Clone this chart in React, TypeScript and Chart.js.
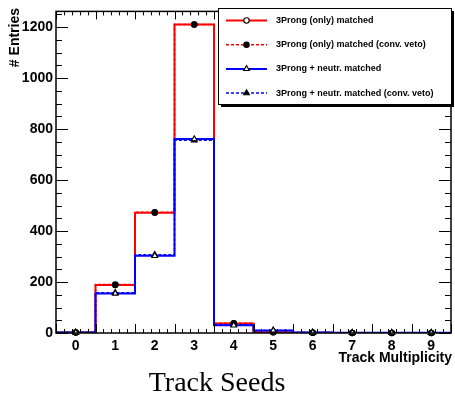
import React, { useEffect, useRef } from 'react';
import { Chart, registerables } from 'chart.js';

Chart.register(...registerables);

// ---- data ----
const binCenters = [0, 1, 2, 3, 4, 5, 6, 7, 8, 9];
const xTickValues = [0, 1, 2, 3, 4, 5, 6, 7, 8, 9];
const yTickValues = [0, 200, 400, 600, 800, 1000, 1200];
const prongOnly = [2, 188, 472, 1211, 37, 3, 1, 0, 0, 0];
const prongOnlyVeto = [2, 190, 474, 1211, 38, 3, 1, 0, 0, 0];
const prongNeutr = [2, 155, 303, 761, 30, 10, 2, 1, 1, 1];
const prongNeutrVeto = [2, 158, 307, 756, 32, 10, 2, 1, 1, 1];
const seriesNames = [
  '3Prong (only) matched',
  '3Prong (only) matched (conv. veto)',
  '3Prong + neutr. matched',
  '3Prong + neutr. matched (conv. veto)',
];
const xTitle = 'Track Multiplicity';
const yTitle = '# Entries';
const caption = 'Track Seeds';

const RED = '#ff0000';
const BLUE = '#0000ff';
const SANS = '"Liberation Sans", Arial, sans-serif';

type Style = { color: string; dash: number[]; width: number; marker: 'circle' | 'triangle'; filled: boolean };
const styles: Style[] = [
  { color: RED, dash: [], width: 2, marker: 'circle', filled: false },
  { color: RED, dash: [3, 2], width: 1.5, marker: 'circle', filled: true },
  { color: BLUE, dash: [], width: 2, marker: 'triangle', filled: false },
  { color: BLUE, dash: [3, 2], width: 1.5, marker: 'triangle', filled: true },
];
const seriesValues = [prongOnly, prongOnlyVeto, prongNeutr, prongNeutrVeto];
// order in which marker sets are painted (last on top)
const markerOrder = [0, 1, 3, 2];

const edges = (vals: number[]) => {
  const pts = vals.map((v, i) => ({ x: binCenters[i] - 0.5, y: v }));
  pts.push({ x: binCenters[binCenters.length - 1] + 0.5, y: vals[vals.length - 1] });
  return pts;
};
const centers = (vals: number[]) => vals.map((v, i) => ({ x: binCenters[i], y: v }));

function drawMarker(ctx: CanvasRenderingContext2D, kind: string, filled: boolean, x: number, y: number) {
  ctx.save();
  ctx.setLineDash([]);
  ctx.lineWidth = 1.1;
  ctx.strokeStyle = '#000';
  ctx.fillStyle = filled ? '#000' : '#fff';
  ctx.beginPath();
  if (kind === 'circle') {
    ctx.arc(x, y, 2.7, 0, Math.PI * 2);
  } else {
    const r = 3.3;
    ctx.moveTo(x, y - r);
    ctx.lineTo(x + r * 0.87, y + r * 0.5);
    ctx.lineTo(x - r * 0.87, y + r * 0.5);
    ctx.closePath();
  }
  ctx.fill();
  ctx.stroke();
  ctx.restore();
}

const framePlugin = {
  id: 'rootFrame',
  afterDatasetsDraw(chart: any) {
    const { ctx, chartArea: a, scales } = chart;
    const xs = scales.x;
    const ys = scales.y;
    // markers
    markerOrder.forEach((s) => {
      const st = styles[s];
      centers(seriesValues[s]).forEach((p) => {
        drawMarker(ctx, st.marker, st.filled, xs.getPixelForValue(p.x), ys.getPixelForValue(p.y));
      });
    });
    ctx.save();
    ctx.strokeStyle = '#000';
    ctx.setLineDash([]);
    ctx.lineWidth = 1.5;
    ctx.strokeRect(a.left, a.top, a.right - a.left, a.bottom - a.top);
    ctx.lineWidth = 1;
    // y ticks
    for (let v = 0; v <= ys.max; v += 50) {
      const y = Math.round(ys.getPixelForValue(v)) + 0.5;
      const len = v % 200 === 0 ? 12 : 6;
      ctx.beginPath();
      ctx.moveTo(a.left, y);
      ctx.lineTo(a.left + len, y);
      ctx.moveTo(a.right, y);
      ctx.lineTo(a.right - len, y);
      ctx.stroke();
    }
    // x ticks
    for (let k = 0; k <= 50; k++) {
      const v = xs.min + k * 0.2;
      const x = Math.round(xs.getPixelForValue(v)) + 0.5;
      const major = k % 5 === 0;
      const lb = major ? 9 : 4;
      const lt = major ? 8 : 4;
      ctx.beginPath();
      ctx.moveTo(x, a.bottom);
      ctx.lineTo(x, a.bottom - lb);
      ctx.moveTo(x, a.top);
      ctx.lineTo(x, a.top + lt);
      ctx.stroke();
    }
    ctx.restore();
  },
  afterDraw(chart: any) {
    const { ctx } = chart;
    ctx.save();
    // axis titles
    ctx.fillStyle = '#000';
    ctx.font = `bold 14px ${SANS}`;
    ctx.textAlign = 'right';
    ctx.textBaseline = 'alphabetic';
    ctx.fillText(xTitle, 452, 362);
    ctx.save();
    ctx.translate(19, 8);
    ctx.rotate(-Math.PI / 2);
    ctx.textAlign = 'right';
    ctx.fillText(yTitle, 0, 0);
    ctx.restore();
    // caption
    ctx.font = '28px "Liberation Serif", "Times New Roman", serif';
    ctx.textAlign = 'center';
    ctx.fillText(caption, 217, 391);
    // legend box with shadow
    const bx = 218, by = 8, bw = 233, bh = 96;
    ctx.fillStyle = '#000';
    ctx.fillRect(bx + 3, by + 3, bw, bh);
    ctx.fillStyle = '#fff';
    ctx.fillRect(bx, by, bw, bh);
    ctx.strokeStyle = '#000';
    ctx.lineWidth = 1;
    ctx.strokeRect(bx + 0.5, by + 0.5, bw, bh);
    ctx.font = `bold 9px ${SANS}`;
    ctx.textAlign = 'left';
    ctx.textBaseline = 'middle';
    seriesNames.forEach((name, i) => {
      const y = 20.5 + i * 24.2;
      const st = styles[i];
      ctx.save();
      ctx.strokeStyle = st.color;
      ctx.lineWidth = st.width;
      ctx.setLineDash(st.dash);
      ctx.beginPath();
      ctx.moveTo(226, y);
      ctx.lineTo(267, y);
      ctx.stroke();
      ctx.restore();
      drawMarker(ctx, st.marker, st.filled, 246.5, y);
      ctx.fillStyle = '#000';
      ctx.fillText(name, 276, y);
    });
    ctx.restore();
  },
};

export default function App() {
  const ref = useRef<HTMLCanvasElement | null>(null);
  useEffect(() => {
    document.body.style.margin = '0';
    const canvas = ref.current;
    if (!canvas) return;
    const lineSets = [3, 2, 1, 0].map((s) => ({
      label: seriesNames[s],
      data: edges(seriesValues[s]),
      borderColor: styles[s].color,
      borderWidth: styles[s].width,
      borderDash: styles[s].dash,
      stepped: 'before' as const,
      pointRadius: 0,
      fill: false,
      tension: 0,
    }));
    const chart = new Chart(canvas, {
      type: 'line',
      data: { datasets: lineSets as any },
      options: {
        animation: false,
        responsive: false,
        layout: { padding: { left: 0, right: 4, top: 10, bottom: 0 } },
        plugins: { legend: { display: false }, tooltip: { enabled: false }, title: { display: false } },
        scales: {
          x: {
            type: 'linear',
            min: -0.5,
            max: 9.5,
            grid: { display: false, drawTicks: false },
            border: { display: false },
            afterBuildTicks: (scale: any) => {
              scale.ticks = xTickValues.map((v) => ({ value: v }));
            },
            afterFit: (scale: any) => {
              scale.height = 62;
            },
            ticks: {
              padding: 5,
              color: '#000',
              font: { family: SANS, weight: 'bold', size: 14 },
              maxRotation: 0,
              autoSkip: false,
              callback: (v: any) => String(v),
            },
          },
          y: {
            type: 'linear',
            min: 0,
            max: 1262,
            grid: { display: false, drawTicks: false },
            border: { display: false },
            afterBuildTicks: (scale: any) => {
              scale.ticks = yTickValues.map((v) => ({ value: v }));
            },
            afterFit: (scale: any) => {
              scale.width = 56;
            },
            ticks: {
              padding: 3,
              color: '#000',
              font: { family: SANS, weight: 'bold', size: 14 },
              autoSkip: false,
              callback: (v: any) => String(v),
            },
          },
        },
      },
      plugins: [framePlugin],
    });
    return () => chart.destroy();
  }, []);
  return (
    <div style={{ width: 455, height: 395 }}>
      <canvas ref={ref} width={455} height={395} style={{ display: 'block' }} />
    </div>
  );
}
